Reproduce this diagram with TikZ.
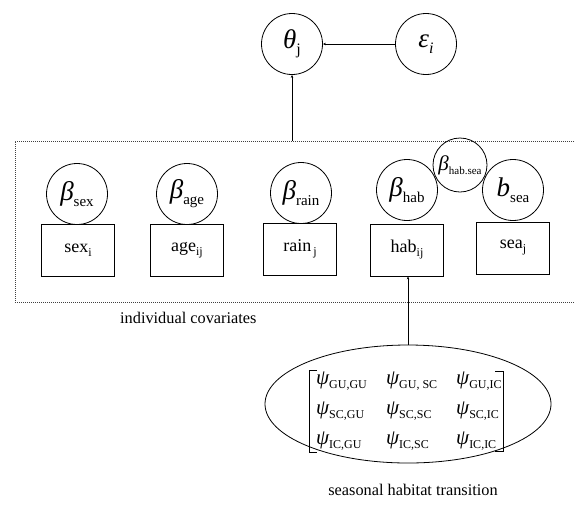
\documentclass[tikz,border=0pt]{standalone}
\usepackage{fontspec}
\setmainfont{Liberation Serif}
\usetikzlibrary{arrows.meta,shapes.geometric}
\newcommand\sy[5]{{\fontsize{#1}{#1}\selectfont\itshape #2}\raisebox{-#5pt}{\fontsize{#3}{#3}\selectfont #4}}
\newcommand\lab[2]{#1\raisebox{-4pt}{\fontsize{12}{12}\selectfont #2}}
\newcommand\psientry[1]{\sy{21}{ψ}{12}{#1}{4}}
\begin{document}
\begin{tikzpicture}[x=1pt,y=-1pt,
  par/.style={circle,draw,line width=0.8pt,minimum size=61pt,inner sep=0pt},
  smallpar/.style={circle,draw,line width=0.8pt,minimum size=54pt,inner sep=0pt},
  cov/.style={rectangle,draw,line width=0.8pt,minimum width=73pt,minimum height=52pt,inner sep=0pt,font=\fontsize{18}{18}\selectfont},
  link/.style={line width=0.8pt,-{Stealth[length=3pt,width=2.5pt]}},
  plain/.style={line width=0.8pt},
  dotbox/.style={line width=0.8pt,draw=black!75,dash pattern=on 1pt off 1pt},
  entry/.style={anchor=base west,inner sep=0pt},
  caption/.style={font=\fontsize{16.3}{16.3}\selectfont,inner sep=0pt}
]
\useasboundingbox (0,0) rectangle (575,504);

% top parameters
\node[par] (theta) at (292,44) {\sy{27}{θ}{16}{j}{6}};
\node[par] (eps) at (426,44) {\sy{27}{ε}{16}{\itshape i}{6}};
\draw[link] (eps) -- (theta);

% dotted covariate frame
\coordinate (ftl) at (15,141);
\coordinate (fbl) at (15,302);
\coordinate (ftr) at (580,141);
\coordinate (fbr) at (580,302);
\draw[dotbox] (ftr) -- (ftl) -- (fbl) -- (fbr);
\coordinate (ftop) at (292,141);
\draw[link] (ftop) -- (theta);

% coefficients
\node[par] (bsex) at (77,194) {\sy{27}{β}{15}{sex}{6}};
\node[par] (bage) at (187,194) {\sy{27}{β}{15}{age}{6}};
\node[par] (brain) at (301,193) {\sy{27}{β}{15}{rain}{6}};
\node[par] (bhab) at (407,190) {\sy{27}{β}{15}{hab}{6}};
\node[smallpar] (bhabsea) at (460,165) {\sy{21}{β}{11}{hab.sea}{4}};
\node[par] (bsea) at (513,190) {\sy{27}{b}{15}{sea}{6}};

% covariates
\node[cov] (sex) at (78,250) {\lab{sex}{i}};
\node[cov] (age) at (187,250) {\lab{age}{ij}};
\node[cov] (rain) at (300,249) {\lab{rain}{\,j}};
\node[cov] (hab) at (407,250) {\lab{hab}{ij}};
\node[cov] (sea) at (513,248) {\lab{sea}{j}};

\node[caption,anchor=west] (indcap) at (120,318) {individual covariates};

% seasonal habitat transition
\node[ellipse,draw,line width=0.8pt,minimum width=286pt,minimum height=118pt,inner sep=0pt] (trans) at (408,404) {};
\draw[link] (trans.north) -- (trans.north |- hab.south);

\node[entry] (p11) at (316,384) {\psientry{GU,GU}};
\node[entry] (p12) at (386,384) {\psientry{GU, SC}};
\node[entry] (p13) at (456,384) {\psientry{GU,IC}};
\node[entry] (p21) at (316,414) {\psientry{SC,GU}};
\node[entry] (p22) at (386,414) {\psientry{SC,SC}};
\node[entry] (p23) at (456,414) {\psientry{SC,IC}};
\node[entry] (p31) at (316,444) {\psientry{IC,GU}};
\node[entry] (p32) at (386,444) {\psientry{IC,SC}};
\node[entry] (p33) at (456,444) {\psientry{IC,IC}};

\coordinate (lbt) at (317,370);
\coordinate (lbb) at (317,452);
\coordinate (rbt) at (495,371);
\coordinate (rbb) at (495,451);
\draw[plain] (lbt) -- ++(-8,0) |- (lbb);
\draw[plain] (rbt) -- ++(8,0) |- (rbb);

\node[caption] (transcap) at (413,490) {seasonal habitat transition};
\end{tikzpicture}
\end{document}
